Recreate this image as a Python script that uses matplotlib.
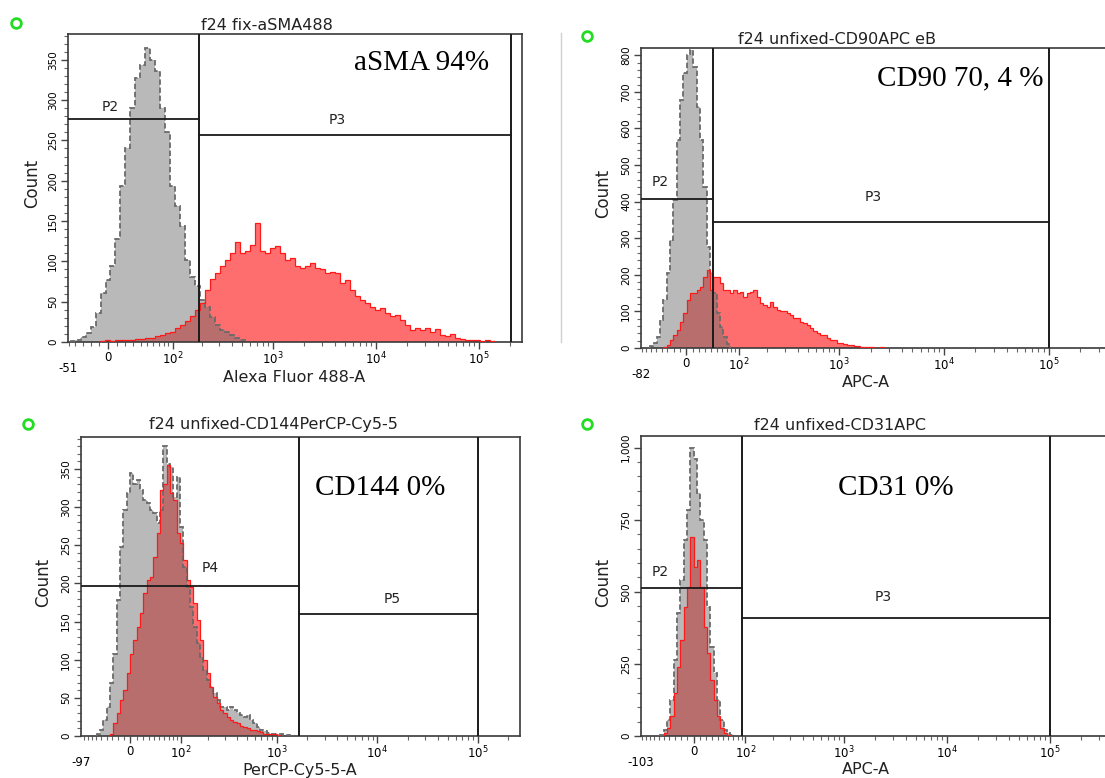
import numpy as np
import matplotlib
matplotlib.use('Agg')
import matplotlib.pyplot as plt
from matplotlib.lines import Line2D

W, H = 1105, 778
plt.rcParams['font.family'] = ['DejaVu Sans']
plt.rcParams['mathtext.fontset'] = 'dejavusans'

# ---------------- dados ----------------
# painel 1 : f24 fix-aSMA488 (cinza = controle, vermelho = marcado)
asma_grey = [1, 3, 6, 11, 19, 36, 61, 77, 94, 128, 194, 240, 290, 327, 344, 365, 350, 336,
             290, 261, 194, 169, 144, 102, 81, 69, 52, 44, 31, 21, 15, 12, 9, 5, 2]
asma_grey_range = (-47, 537)
asma_red = [1, 2, 1, 2, 3, 2, 3, 4, 4, 5, 5, 7, 9, 11, 13, 17, 21, 26, 32, 40,
            48, 65, 78, 86, 94, 102, 111, 124, 111, 113, 120, 148, 113, 111, 117, 119, 111, 102, 104, 94,
            92, 94, 98, 92, 90, 86, 87, 86, 73, 77, 65, 57, 52, 48, 44, 40, 42, 36, 32, 34,
            27, 21, 15, 17, 15, 17, 12, 16, 9, 7, 10, 5, 4, 3, 3, 2, 1, 2, 1]
asma_red_range = (-8.6, 143000)
asma_gates = [190, 205000]
asma_levels = [277, 257]

# painel 2 : f24 unfixed-CD90APC eB
cd90_grey = [5, 15, 30, 76, 131, 205, 295, 404, 568, 678, 751, 800, 814, 768, 659, 568,
             440, 276, 205, 150, 96, 57, 30, 12]
cd90_grey_range = (-62, 78)
cd90_red = [3, 8, 22, 35, 49, 70, 96, 131, 150, 150, 158, 167, 194, 213, 158, 194, 194, 177, 158, 158,
            150, 158, 150, 154, 140, 150, 154, 158, 140, 122, 118, 113, 127, 113, 104, 100, 100, 96, 91, 82,
            82, 72, 68, 63, 55, 46, 42, 36, 36, 27, 22, 21, 13, 13, 11, 8, 7, 6, 5, 4,
            3, 2, 2, 1, 1, 2]
cd90_red_range = (-37, 2660)
cd90_gates = [43, 100000]
cd90_levels = [407, 344]

# painel 3 : f24 unfixed-CD144PerCP-Cy5-5
cd144_grey = [3, 8, 21, 38, 69, 108, 178, 248, 296, 318, 345, 331, 335, 322, 309, 305, 296, 292, 279, 296,
              380, 357, 353, 313, 339, 274, 222, 195, 169, 143, 122, 104, 87, 73, 64, 56, 47, 38, 38, 34,
              38, 34, 30, 28, 25, 28, 21, 17, 12, 8, 6, 4, 3, 3, 2, 2, 1, 1]
cd144_grey_range = (-59.5, 1350)
cd144_red = [3, 17, 30, 47, 60, 82, 108, 126, 143, 161, 187, 204, 209, 235, 266, 322, 331, 355, 318, 309,
             266, 253, 231, 204, 195, 174, 152, 126, 100, 82, 64, 51, 43, 34, 30, 25, 21, 19, 17, 13,
             12, 10, 8, 8, 6, 5, 3, 3, 2, 2, 1]
cd144_red_range = (-33.8, 1073)
cd144_gates = [1650, 100000]
cd144_levels = [197, 160]

# painel 4 : f24 unfixed-CD31APC
cd31_grey = [3, 21, 56, 125, 264, 427, 542, 681, 785, 1000, 960, 844, 750, 681, 448, 309,
             219, 125, 56, 21, 9, 3]
cd31_grey_range = (-57, 71)
cd31_red = [10, 27, 68, 148, 240, 333, 448, 518, 690, 587, 611, 518, 379, 287, 194, 125, 68, 27, 9, 3]
cd31_red_range = (-50.7, 63.8)
cd31_gates = [90, 100000]
cd31_levels = [514, 410]

# ---------------- layout de cada painel (pixels da imagem) ----------------
panels = [
    dict(grey=asma_grey, grey_range=asma_grey_range, red=asma_red, red_range=asma_red_range,
         gates=asma_gates, levels=asma_levels, gate_names=['P2', 'P3'],
         rect=(68, 34, 522, 342), c=50, xlim=(-51, 262144), ymax=382,
         yticks=list(range(0, 351, 50)), ylabels=None, yminor=10,
         title='f24 fix-aSMA488', title_xy=(267, 25), xlabel='Alexa Fluor 488-A', xlabel_xy=(294, 377),
         count_xy=(32, 183), note='aSMA 94%', note_xy=(422, 63), dot_xy=(16, 23),
         gate_label_xy=[(110, 107), (337, 120)]),
    dict(grey=cd90_grey, grey_range=cd90_grey_range, red=cd90_red, red_range=cd90_red_range,
         gates=cd90_gates, levels=cd90_levels, gate_names=['P2', 'P3'],
         rect=(641, 48, 1120, 348), c=70, xlim=(-82, 480000), ymax=820,
         yticks=list(range(0, 801, 100)), ylabels=None, yminor=20,
         title='f24 unfixed-CD90APC eB', title_xy=(837, 39), xlabel='APC-A', xlabel_xy=(866, 382),
         count_xy=(603, 193), note='CD90 70, 4 %', note_xy=(960, 78), dot_xy=(587, 36),
         gate_label_xy=[(660, 182), (873, 197)]),
    dict(grey=cd144_grey, grey_range=cd144_grey_range, red=cd144_red, red_range=cd144_red_range,
         gates=cd144_gates, levels=cd144_levels, gate_names=['P4', 'P5'],
         rect=(81, 437, 520, 736), c=70, xlim=(-97, 262144), ymax=392,
         yticks=list(range(0, 351, 50)), ylabels=None, yminor=10,
         title='f24 unfixed-CD144PerCP-Cy5-5', title_xy=(273, 425), xlabel='PerCP-Cy5-5-A',
         xlabel_xy=(300, 770), count_xy=(43, 582), note='CD144 0%', note_xy=(380, 488), dot_xy=(28, 424),
         gate_label_xy=[(210, 568), (392, 599)]),
    dict(grey=cd31_grey, grey_range=cd31_grey_range, red=cd31_red, red_range=cd31_red_range,
         gates=cd31_gates, levels=cd31_levels, gate_names=['P2', 'P3'],
         rect=(641, 436, 1120, 736), c=70, xlim=(-103, 480000), ymax=1040,
         yticks=[0, 250, 500, 750, 1000], ylabels=['0', '250', '500', '750', '1,000'], yminor=50,
         title='f24 unfixed-CD31APC', title_xy=(840, 426), xlabel='APC-A', xlabel_xy=(866, 770),
         count_xy=(603, 582), note='CD31 0%', note_xy=(896, 488), dot_xy=(587, 424),
         gate_label_xy=[(660, 572), (883, 597)]),
]

fig = plt.figure(figsize=(W / 100, H / 100), dpi=100)


def fpos(x, y):
    # pixel da imagem -> fracao da figura
    return x / W, 1 - y / H


def bin_edges(lo, hi, n, c):
    # canais igualmente espacados na escala de exibicao (arcsinh)
    u = np.linspace(np.arcsinh(lo / c), np.arcsinh(hi / c), n + 1)
    return c * np.sinh(u)


minor_x = ([-v for v in range(10, 101, 10)] + list(range(10, 100, 10)) + list(range(200, 1000, 100))
           + list(range(2000, 10000, 1000)) + list(range(20000, 100000, 10000)) + [200000, 300000, 400000])

for p in panels:
    l, t, r, b = p['rect']
    ax = fig.add_axes([l / W, 1 - b / H, (r - l) / W, (b - t) / H])
    c = p['c']
    ax.set_xscale('function', functions=(lambda x, c=c: np.arcsinh(np.asarray(x) / c),
                                         lambda u, c=c: c * np.sinh(u)))
    ax.set_xlim(*p['xlim'])
    ax.set_ylim(0, p['ymax'])

    # histogramas: vermelho opaco embaixo, cinza translucido por cima -> sobreposicao marrom
    e_red = bin_edges(*p['red_range'], len(p['red']), c)
    e_grey = bin_edges(*p['grey_range'], len(p['grey']), c)
    ax.stairs(p['red'], e_red, fill=True, color='#ff6e6e', lw=0, zorder=1)
    ax.stairs(p['grey'], e_grey, fill=True, color='#6e6e6e', alpha=0.48, lw=0, zorder=2)
    ax.stairs(p['grey'], e_grey, color='#6a6a6a', lw=1.3, linestyle=(0, (3, 1.5)), zorder=3)
    ax.stairs(p['red'], e_red, color='#ff1a1a', lw=0.9, zorder=4)

    # gates
    g1, g2 = p['gates']
    ax.axvline(g1, color='#1a1a1a', lw=1.4, zorder=5)
    ax.axvline(g2, color='#1a1a1a', lw=1.4, zorder=5)
    ax.plot([p['xlim'][0], g1], [p['levels'][0]] * 2, color='#1a1a1a', lw=1.3, zorder=5)
    ax.plot([g1, g2], [p['levels'][1]] * 2, color='#1a1a1a', lw=1.3, zorder=5)
    for name, (gx, gy) in zip(p['gate_names'], p['gate_label_xy']):
        fig.text(*fpos(gx, gy), name, ha='center', va='center', fontsize=10, color='#222222')

    # eixos
    for s in ax.spines.values():
        s.set_color('#3a3a3a')
        s.set_linewidth(1.2)
    ax.set_xticks([0, 100, 1000, 10000, 100000],
                  labels=['0', r'$10^2$', r'$10^3$', r'$10^4$', r'$10^5$'])
    ax.set_xticks([v for v in minor_x if p['xlim'][0] < v < p['xlim'][1]], minor=True)
    ax.set_yticks(p['yticks'], labels=p['ylabels'] if p['ylabels'] else [str(v) for v in p['yticks']])
    ax.set_yticks(list(range(0, int(p['ymax']), p['yminor'])), minor=True)
    ax.tick_params(axis='x', which='major', length=5, width=1, labelsize=8.5, pad=1.5, color='#444444')
    ax.tick_params(axis='y', which='major', length=5, width=1, labelsize=7.5, labelrotation=90, pad=2,
                   color='#444444')
    ax.tick_params(which='minor', length=3, width=0.8, color='#666666')
    for lab in ax.get_yticklabels():
        lab.set_va('center')
    ax.text(p['xlim'][0], -26 / (b - t), str(p['xlim'][0]), transform=ax.get_xaxis_transform(),
            ha='center', va='center', fontsize=8.5)

    # textos
    fig.text(*fpos(*p['title_xy']), p['title'], ha='center', va='center', fontsize=11.5, color='#222222')
    fig.text(*fpos(*p['xlabel_xy']), p['xlabel'], ha='center', va='center', fontsize=11.5, color='#222222')
    fig.text(*fpos(*p['count_xy']), 'Count', ha='center', va='center', rotation=90, fontsize=12,
             color='#222222')
    fig.text(*fpos(*p['note_xy']), p['note'], ha='center', va='center', fontsize=21,
             family='Liberation Serif', color='black')
    fig.add_artist(Line2D([fpos(*p['dot_xy'])[0]], [fpos(*p['dot_xy'])[1]], marker='o', markersize=7,
                          markerfacecolor='none', markeredgecolor='#22dd22', markeredgewidth=2,
                          transform=fig.transFigure))

# linha cinza fina da borda do recorte original
fig.add_artist(Line2D([561 / W, 561 / W], [1 - 33 / H, 1 - 342 / H], color='#d0d0d0', lw=1,
                      transform=fig.transFigure))

fig.savefig('out.png', dpi=100)
